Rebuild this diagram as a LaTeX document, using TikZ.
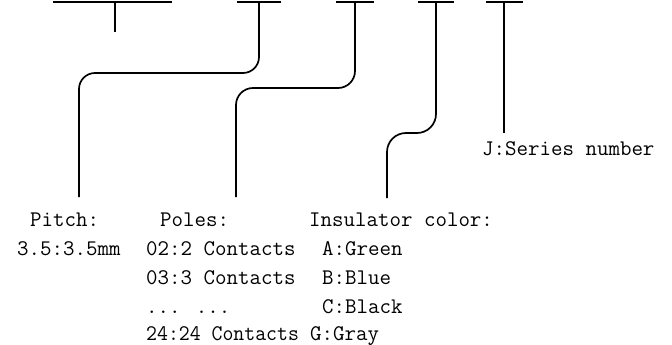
\documentclass[tikz,border=0pt]{standalone}
\begin{document}
\begin{tikzpicture}[x=1pt,y=-1pt,
  ln/.style={line width=1.7pt},
  txt/.style={anchor=base west,inner sep=0pt,font=\fontsize{22.3}{26}\selectfont\ttfamily}]
\useasboundingbox (0,0) rectangle (672,345);
% top bars
\coordinate (b1l) at (53,2);  \coordinate (b1r) at (172,2);
\coordinate (b2l) at (237,2); \coordinate (b2r) at (281,2);
\coordinate (b3l) at (336,2); \coordinate (b3r) at (374,2);
\coordinate (b4l) at (418,2); \coordinate (b4r) at (454,2);
\coordinate (b5l) at (486,2); \coordinate (b5r) at (523,2);
\draw[ln] (b1l) -- (b1r);
\draw[ln] (b2l) -- (b2r);
\draw[ln] (b3l) -- (b3r);
\draw[ln] (b4l) -- (b4r);
\draw[ln] (b5l) -- (b5r);
% stems
\coordinate (s1) at (115,2); \coordinate (e1) at (115,32);
\draw[ln] (s1) -- (e1);
\coordinate (s2) at (259,2); \coordinate (e2) at (79,197);
\draw[ln,rounded corners=16] (s2) -- (259,73) -- (79,73) -- (e2);
\coordinate (s3) at (355,2); \coordinate (e3) at (236,197);
\draw[ln,rounded corners=17] (s3) -- (355,88) -- (236,88) -- (e3);
\coordinate (s4) at (436,2); \coordinate (e4) at (387,198);
\draw[ln,rounded corners=19] (s4) -- (436,133) -- (387,133) -- (e4);
\coordinate (s5) at (504,2); \coordinate (e5) at (504,133);
\draw[ln] (s5) -- (e5);
% texts
\node[txt] (jser) at (482,155) {J:Series number};
\node[txt] (pitch) at (30,226) {Pitch:};
\node[txt] (pitchv) at (17,255) {3.5:3.5mm};
\node[txt] (poles) at (160,226) {Poles:};
\node[txt] (p1) at (146,255) {02:2 Contacts};
\node[txt] (p2) at (146,284) {03:3 Contacts};
\node[txt] (p3) at (146,313) {... ...};
\node[txt,xscale=0.95] (p4) at (146,340) {24:24 Contacts};
\node[txt] (ins) at (309,226) {Insulator color:};
\node[txt] (c1) at (322,255) {A:Green};
\node[txt] (c2) at (322,284) {B:Blue};
\node[txt] (c3) at (322,313) {C:Black};
\node[txt] (c4) at (310,340) {G:Gray};
\end{tikzpicture}
\end{document}
